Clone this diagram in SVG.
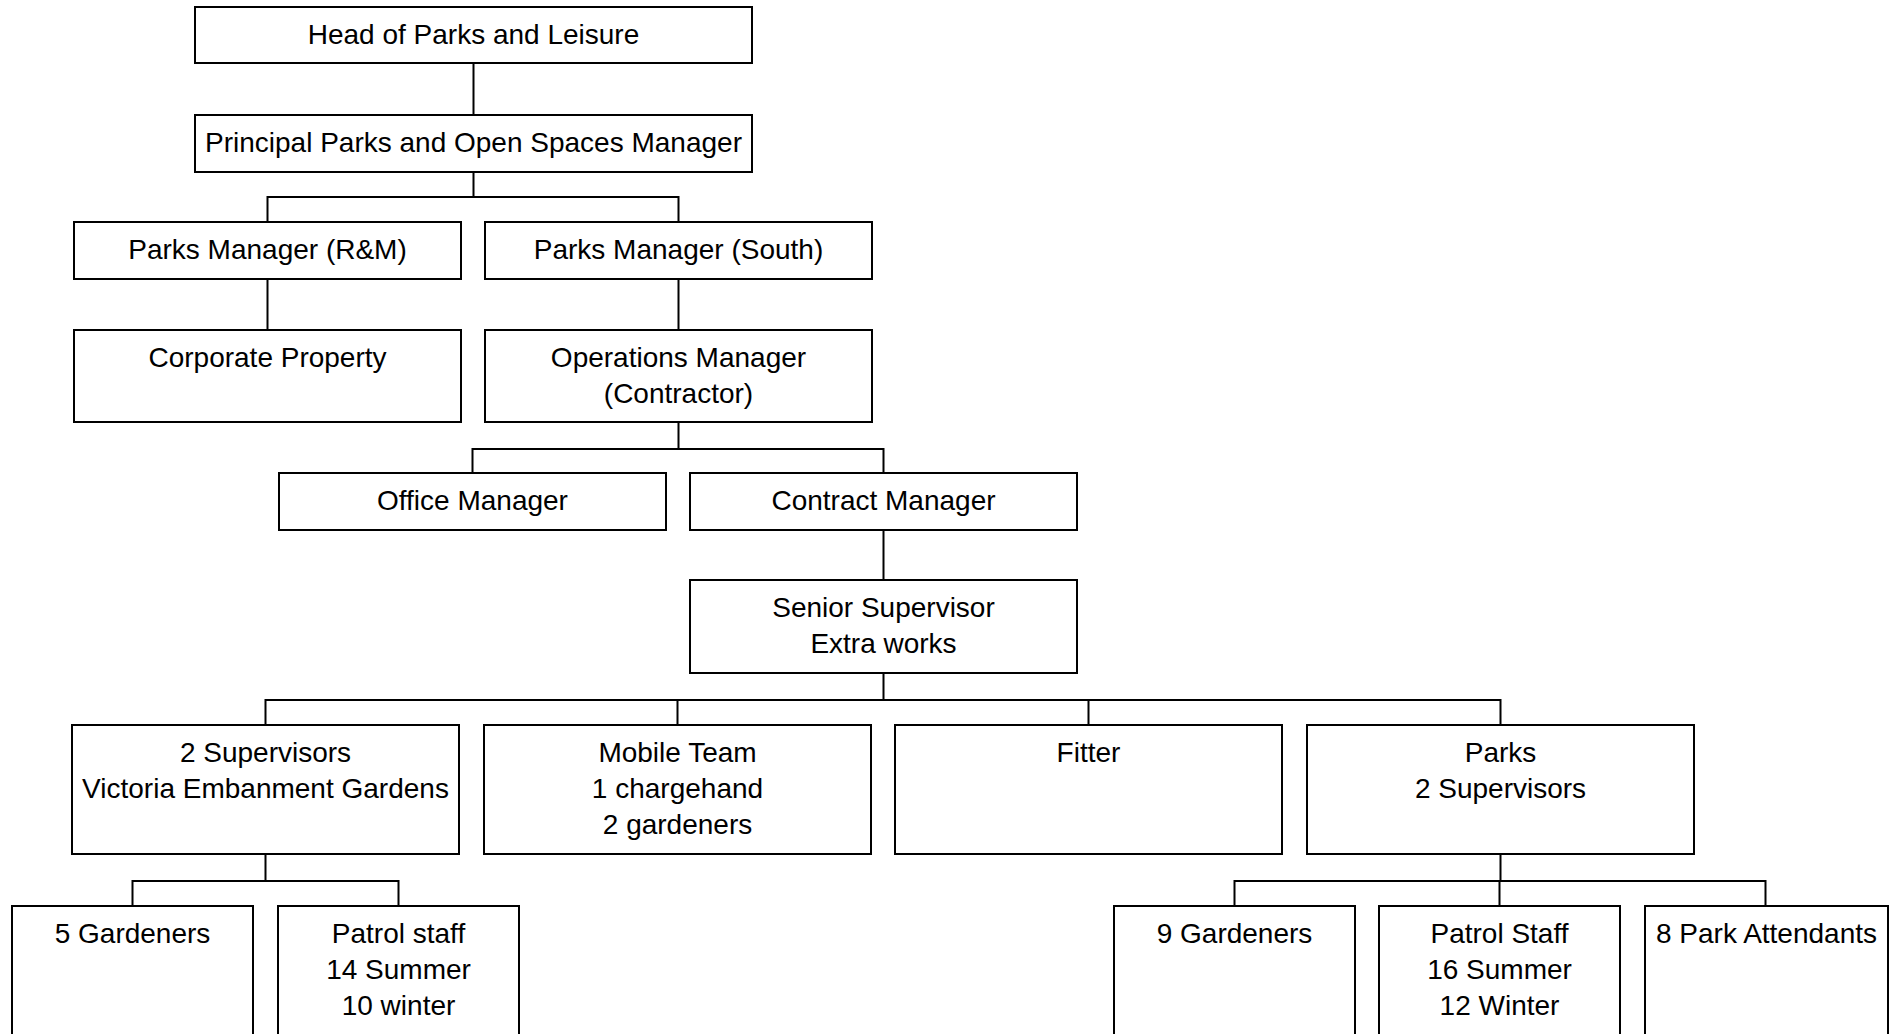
<svg xmlns="http://www.w3.org/2000/svg" width="1892" height="1034" viewBox="0 0 1892 1034">
<style>
rect{fill:#fff;stroke:#000;stroke-width:2}
text{font-family:"Liberation Sans",Arial,sans-serif;font-size:28px;fill:#000;text-anchor:middle}
#connectors path{fill:none;stroke:#000;stroke-width:2}
</style>
<rect x="0" y="0" width="1892" height="1034" style="stroke:none"/>
<g id="connectors">
<path d="M473.5 63V115"/>
<path d="M473.5 172V197M267.5 222V197H678.5V222"/>
<path d="M267.5 279V330"/>
<path d="M678.5 279V330"/>
<path d="M678.5 422V449M472.5 473V449H883.5V473"/>
<path d="M883.5 530V580"/>
<path d="M883.5 673V700M265.5 725V700H1500.5V725M677.5 700V725M1088.5 700V725"/>
<path d="M265.5 854V881M132.5 906V881H398.5V906"/>
<path d="M1500.5 854V881M1234.5 906V881H1765.5V906M1499.5 881V906"/>
</g>
<g id="head"><rect x="195" y="7" width="557" height="56"/><text x="473.5" y="44">Head of Parks and Leisure</text></g>
<g id="principal"><rect x="195" y="115" width="557" height="57"/><text x="473.5" y="152">Principal Parks and Open Spaces Manager</text></g>
<g id="pm-rm"><rect x="74" y="222" width="387" height="57"/><text x="267.5" y="259">Parks Manager (R&amp;M)</text></g>
<g id="pm-south"><rect x="485" y="222" width="387" height="57"/><text x="678.5" y="259">Parks Manager (South)</text></g>
<g id="corporate"><rect x="74" y="330" width="387" height="92"/><text x="267.5" y="367">Corporate Property</text></g>
<g id="ops"><rect x="485" y="330" width="387" height="92"/><text x="678.5" y="367">Operations Manager</text><text x="678.5" y="403">(Contractor)</text></g>
<g id="office"><rect x="279" y="473" width="387" height="57"/><text x="472.5" y="510">Office Manager</text></g>
<g id="contract"><rect x="690" y="473" width="387" height="57"/><text x="883.5" y="510">Contract Manager</text></g>
<g id="senior"><rect x="690" y="580" width="387" height="93"/><text x="883.5" y="617">Senior Supervisor</text><text x="883.5" y="653">Extra works</text></g>
<g id="veg"><rect x="72" y="725" width="387" height="129"/><text x="265.5" y="762">2 Supervisors</text><text x="265.5" y="798">Victoria Embanment Gardens</text></g>
<g id="mobile"><rect x="484" y="725" width="387" height="129"/><text x="677.5" y="762">Mobile Team</text><text x="677.5" y="798">1 chargehand</text><text x="677.5" y="834">2 gardeners</text></g>
<g id="fitter"><rect x="895" y="725" width="387" height="129"/><text x="1088.5" y="762">Fitter</text></g>
<g id="parks"><rect x="1307" y="725" width="387" height="129"/><text x="1500.5" y="762">Parks</text><text x="1500.5" y="798">2 Supervisors</text></g>
<g id="gardeners5"><rect x="12" y="906" width="241" height="140"/><text x="132.5" y="943">5 Gardeners</text></g>
<g id="patrol1"><rect x="278" y="906" width="241" height="140"/><text x="398.5" y="943">Patrol staff</text><text x="398.5" y="979">14 Summer</text><text x="398.5" y="1015">10 winter</text></g>
<g id="gardeners9"><rect x="1114" y="906" width="241" height="140"/><text x="1234.5" y="943">9 Gardeners</text></g>
<g id="patrol2"><rect x="1379" y="906" width="241" height="140"/><text x="1499.5" y="943">Patrol Staff</text><text x="1499.5" y="979">16 Summer</text><text x="1499.5" y="1015">12 Winter</text></g>
<g id="attendants"><rect x="1645" y="906" width="243" height="140"/><text x="1766.5" y="943">8 Park Attendants</text></g>
</svg>
